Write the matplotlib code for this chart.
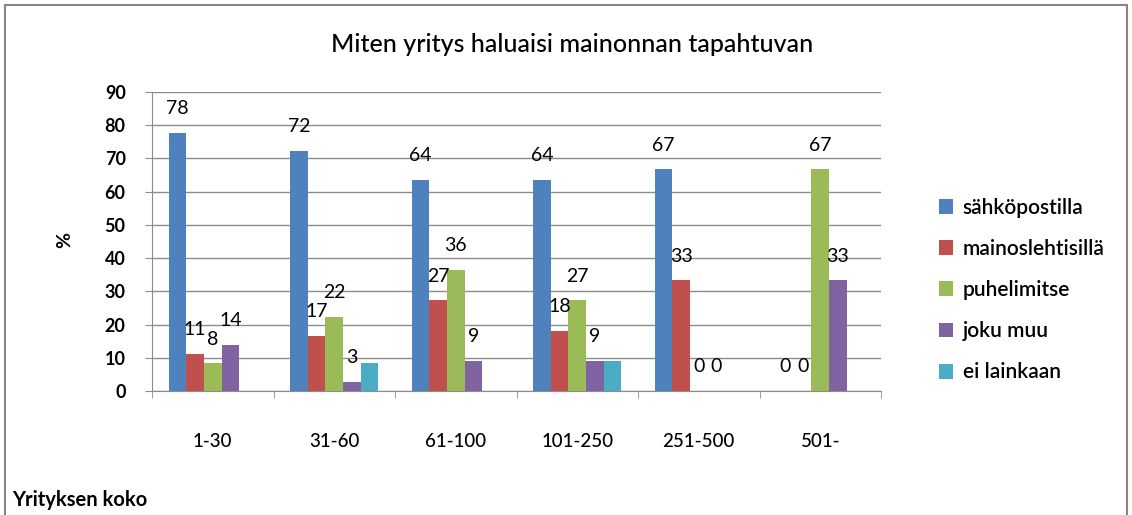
import matplotlib.pyplot as plt
from matplotlib.patches import Rectangle
import numpy as np

plt.rcParams['font.family'] = ['Lato', 'DejaVu Sans']

categories = ["1-30", "31-60", "61-100", "101-250", "251-500", "501-"]
series_names = ["sähköpostilla", "mainoslehtisillä", "puhelimitse", "joku muu", "ei lainkaan"]
sahkopostilla = [77.8, 72.2, 63.6, 63.6, 66.7, 0]
mainoslehtisilla = [11.1, 16.7, 27.3, 18.2, 33.3, 0]
puhelimitse = [8.3, 22.2, 36.4, 27.3, 0, 66.7]
joku_muu = [13.9, 2.8, 9.1, 9.1, 0, 33.3]
ei_lainkaan = [0, 8.3, 0, 9.1, 0, 0]
colors = ["#4F81BD", "#C0504D", "#9BBB59", "#8064A2", "#4BACC6"]
labelled = [True, True, True, True, False]

data = [sahkopostilla, mainoslehtisilla, puhelimitse, joku_muu, ei_lainkaan]

fig = plt.figure(figsize=(11.32, 5.15), dpi=100)
ax = fig.add_axes([0.1343, 0.2408, 0.644, 0.5806])

# chart border
fig.patches.append(Rectangle((5/1132, -0.05), 1122/1132, 1.05 - 5/515, transform=fig.transFigure,
                             fill=False, edgecolor="#868686", lw=1.5))

x = np.arange(len(categories))
w = 0.145
for i, (vals, name, c) in enumerate(zip(data, series_names, colors)):
	pos = x + (i - 2) * w
	ax.bar(pos, vals, w, color=c, label=name, zorder=3)
	if labelled[i]:
		for p, v in zip(pos, vals):
			ax.annotate(str(int(round(v))), xy=(p, v), xytext=(0, 13.5), textcoords="offset points",
						ha="center", va="baseline", fontsize=14, zorder=4)

ax.set_xlim(-0.5, len(categories) - 0.5)
ax.set_ylim(0, 90)
ax.set_yticks(range(0, 91, 10))
ax.grid(axis="y", color="#8c8c8c", lw=1, zorder=0)
for s in ["top", "right"]:
	ax.spines[s].set_visible(False)
ax.spines["left"].set_color("#8c8c8c")
ax.spines["bottom"].set_color("#8c8c8c")

ax.set_xticks(x)
ax.set_xticklabels(categories, fontsize=13.5, fontweight="medium")
ax.tick_params(axis="x", length=0, pad=30)
ax.set_xticks(np.arange(-0.5, len(categories), 1), minor=True)
ax.tick_params(axis="x", which="minor", length=5, color="#8c8c8c", direction="out")
ax.tick_params(axis="y", length=5, color="#8c8c8c", pad=14, labelsize=13)
for t in ax.get_yticklabels():
	t.set_fontweight("bold")

fig.text(65/1132, 1 - 240/515, "%", rotation=90, fontsize=14, fontweight="bold", ha="center", va="center")
fig.text(572/1132, 1 - 44/515, "Miten yritys haluaisi mainonnan tapahtuvan", fontsize=18,
		 fontweight="medium", ha="center", va="center")
fig.text(12/1132, 1 - 500/515, "Yrityksen koko", fontsize=14.5, fontweight="bold", ha="left", va="center")

fig.legend(loc="center left", bbox_to_anchor=(920/1132, 1 - 290/515), frameon=False,
		   prop={"size": 15, "weight": "semibold"},
		   handlelength=0.7, handleheight=0.7, labelspacing=1.02, handletextpad=0.45)

fig.savefig("out.png", dpi=100)
